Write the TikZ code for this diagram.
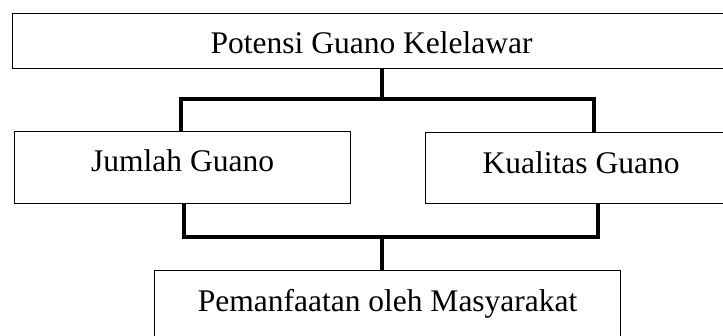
\documentclass[tikz,border=0pt]{standalone}
\usepackage{fontspec}
\setmainfont{Liberation Serif}
\begin{document}
\begin{tikzpicture}[x=1pt, y=-1pt,
	kotak/.style={draw, line width=1.2pt, inner sep=0pt, anchor=north west, align=center,
		font=\fontsize{31.5}{37}\selectfont},
	garis/.style={line width=4pt}]
	\useasboundingbox (0,0) rectangle (723,336);
	\clip (0,0) rectangle (723,336);
	
	\node[kotak, minimum width=718pt, text height=40pt, text depth=15pt] (potensi) at (12,13){Potensi Guano Kelelawar};
	\node[kotak, minimum width=336pt, text height=40pt, text depth=32pt] (jumlah) at (14,131){Jumlah Guano};
	\node[kotak, minimum width=311pt, text height=41pt, text depth=30pt] (kualitas) at (425,132){Kualitas Guano};
	\node[kotak, minimum width=466pt, text height=41pt, text depth=40pt] (pemanfaatan) at (154,270){Pemanfaatan oleh Masyarakat};
	
	%\draw[thin, red] (0,0) rectangle (723,336);
	
	\coordinate (pisahAtas) at (382,99);
	\coordinate (kiriAtas) at (181,99);
	\coordinate (kananAtas) at (594,99);
	\coordinate (pisahBawah) at (382,237);
	\coordinate (kiriBawah) at (184,237);
	\coordinate (kananBawah) at (598,237);
	
	\draw[garis] (potensi.south -| pisahAtas) -- (pisahAtas);
	\draw[garis] (jumlah.north -| kiriAtas) -- (kiriAtas) -- (kananAtas) -- (kualitas.north -| kananAtas);
	
	\draw[garis] (jumlah.south -| kiriBawah) -- (kiriBawah) -- (kananBawah) -- (kualitas.south -| kananBawah);
	\draw[garis] (pisahBawah) -- (pemanfaatan.north -| pisahBawah);
\end{tikzpicture}
\end{document}
